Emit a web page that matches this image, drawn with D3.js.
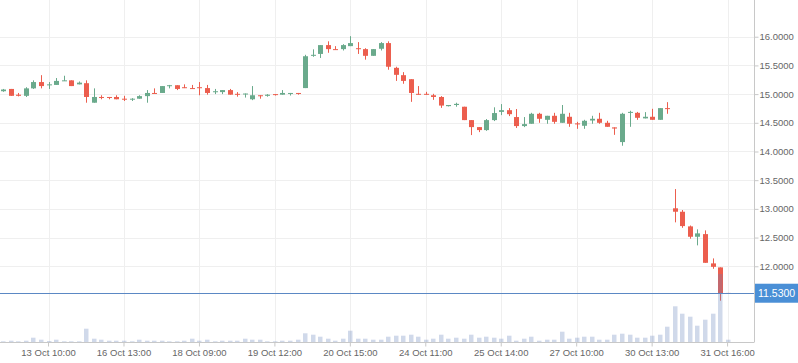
<!DOCTYPE html>
<html>
<head>
<meta charset="utf-8">
<script src="https://cdn.jsdelivr.net/npm/d3@7"></script>
<style>
  body { margin: 0; background: #fff; }
  svg { display: block; font-family: "Liberation Sans", Arial, sans-serif; }
  .axis path, .axis line { stroke: #c8c8c8; }
  .axis text { fill: #666; }
</style>
</head>
<body>
<div id="chart"></div>
<script>
// candles, one per slot
let opens = [15.05, 15.09, 14.99, 14.97, 15.10, 15.21, 15.16, 15.16, 15.23, 15.24,
  15.17, 15.19, 14.85, 14.95, 14.95, 14.95, 14.92, 14.91, 14.92, 14.965,
  15.02, 15.02, 15.145, 15.155, 15.12, 15.105, 15.12, 15.105, 15.035, 15.035,
  15.07, 15.005, 14.995, 14.91, 14.98, 14.97, 15.00, 14.99, 15.01, 15.02,
  15.105, 15.667, 15.70, 15.854, 15.784, 15.784, 15.836, 15.80, 15.784, 15.667,
  15.79, 15.889, 15.458, 15.33, 15.26, 15.005, 15.005, 14.98, 14.95, 14.79,
  14.81, 14.78, 14.547, 14.425, 14.373, 14.547, 14.69, 14.72, 14.60, 14.443,
  14.483, 14.657, 14.552, 14.622, 14.50, 14.605, 14.49, 14.448, 14.54, 14.57,
  14.50, 14.42, 14.164, 14.674, 14.674, 14.577, 14.605, 14.552, 14.756, 13.01,
  12.95, 12.695, 12.514, 12.56, 12.05, 11.98, 11.535]
let highs = [15.09, 15.09, 15.02, 15.12, 15.24, 15.33, 15.21, 15.28, 15.32, 15.24,
  15.22, 15.24, 15.10, 14.98, 14.95, 14.98, 14.97, 14.93, 14.98, 15.07,
  15.10, 15.14, 15.16, 15.155, 15.17, 15.16, 15.21, 15.16, 15.09, 15.07,
  15.09, 15.035, 15.01, 15.14, 14.98, 15.00, 15.00, 15.07, 15.02, 15.02,
  15.685, 15.78, 15.854, 15.92, 15.836, 15.87, 16.01, 15.906, 15.80, 15.784,
  15.906, 15.92, 15.477, 15.383, 15.26, 15.14, 15.04, 15.005, 14.965, 14.81,
  14.85, 14.78, 14.547, 14.425, 14.565, 14.77, 14.826, 14.756, 14.74, 14.60,
  14.674, 14.674, 14.622, 14.674, 14.81, 14.674, 14.517, 14.552, 14.622, 14.674,
  14.535, 14.42, 14.674, 14.71, 14.69, 14.686, 14.744, 14.756, 14.86, 13.345,
  12.98, 12.71, 12.643, 12.625, 12.137, 11.98, 11.535]
let lows = [15.04, 14.97, 14.96, 14.95, 15.09, 15.10, 15.09, 15.16, 15.23, 15.14,
  15.17, 14.85, 14.85, 14.91, 14.91, 14.91, 14.88, 14.88, 14.92, 14.85,
  15.01, 15.02, 15.10, 15.07, 15.105, 15.09, 14.98, 14.99, 15.00, 15.00,
  14.99, 14.955, 14.94, 14.895, 14.92, 14.955, 14.975, 14.99, 14.975, 14.99,
  15.105, 15.65, 15.63, 15.72, 15.775, 15.76, 15.836, 15.70, 15.60, 15.667,
  15.76, 15.425, 15.23, 15.18, 14.865, 14.99, 14.99, 14.90, 14.76, 14.785,
  14.78, 14.547, 14.286, 14.338, 14.36, 14.53, 14.634, 14.617, 14.41, 14.425,
  14.483, 14.50, 14.483, 14.483, 14.50, 14.43, 14.395, 14.395, 14.483, 14.483,
  14.43, 14.29, 14.10, 14.43, 14.552, 14.577, 14.552, 14.552, 14.657, 12.765,
  12.67, 12.48, 12.364, 12.06, 11.956, 11.40, 11.53]
let closes = [15.08, 14.97, 14.97, 15.10, 15.21, 15.14, 15.17, 15.23, 15.24, 15.14,
  15.20, 14.95, 14.95, 14.94, 14.94, 14.91, 14.91, 14.92, 14.965, 15.02,
  15.01, 15.14, 15.155, 15.09, 15.105, 15.09, 15.11, 15.02, 15.05, 15.07,
  14.99, 14.99, 15.01, 14.98, 14.97, 14.99, 14.985, 15.02, 15.02, 15.005,
  15.66, 15.685, 15.854, 15.784, 15.775, 15.854, 15.889, 15.785, 15.667, 15.784,
  15.889, 15.477, 15.336, 15.23, 15.02, 14.99, 14.99, 14.95, 14.80, 14.81,
  14.83, 14.547, 14.425, 14.373, 14.547, 14.67, 14.72, 14.65, 14.443, 14.477,
  14.657, 14.57, 14.622, 14.517, 14.657, 14.483, 14.472, 14.535, 14.57, 14.50,
  14.43, 14.40, 14.657, 14.69, 14.587, 14.605, 14.552, 14.756, 14.74, 12.95,
  12.70, 12.514, 12.573, 12.06, 11.99, 11.53, 11.53]
let volumes = [7, 13, 7, 13, 43, 23, 10, 23, 7, 7,
  7, 133, 33, 23, 13, 13, 13, 7, 23, 13,
  13, 13, 7, 7, 13, 33, 13, 23, 7, 13,
  13, 13, 33, 23, 23, 7, 7, 13, 13, 23,
  87, 73, 53, 33, 13, 33, 113, 33, 33, 23,
  23, 53, 63, 63, 73, 53, 23, 33, 73, 33,
  43, 33, 73, 43, 53, 43, 33, 63, 13, 33,
  53, 13, 23, 23, 103, 33, 43, 53, 53, 23,
  23, 73, 83, 73, 43, 43, 63, 73, 153, 357,
  283, 253, 163, 223, 283, 680, 23]

let slots = 100 // room on the right of the last candle
let tickIndex = [6, 16, 26, 36, 46, 56, 66, 76, 86, 96]
let tickLabels = ['13 Oct 10:00', '16 Oct 13:00', '18 Oct 09:00', '19 Oct 12:00', '20 Oct 15:00',
  '24 Oct 11:00', '25 Oct 14:00', '27 Oct 10:00', '30 Oct 13:00', '31 Oct 16:00']
let priceTicks = [12, 12.5, 13, 13.5, 14, 14.5, 15, 15.5, 16]
let lastPrice = 11.53

let width = 798,
  height = 363,
  plotRight = 754,
  plotBottom = 342

let data = opens.map(function (o, i) {
  return { i: i, open: o, high: highs[i], low: lows[i], close: closes[i], volume: volumes[i] }
})

let x = d3.scaleBand()
  .domain(d3.range(slots))
  .range([-0.5, plotRight])

let y = d3.scaleLinear()
  .domain([10.68, 16.64])
  .range([plotBottom, 0])

let yVol = d3.scaleLinear()
  .domain([0, d3.max(volumes)])
  .range([plotBottom, plotBottom - 68])

let up = '#6aaa8c', down = '#ec5e4e'
let cx = function (d) { return Math.round(x(d.i) + x.bandwidth() / 2) }

let svg = d3.select('#chart').append('svg')
  .attr('width', width)
  .attr('height', height)

// grid
svg.append('g').selectAll('line')
  .data(priceTicks)
  .enter().append('line')
  .attr('x1', 0).attr('x2', plotRight)
  .attr('y1', function (d) { return Math.round(y(d)) + 0.5 })
  .attr('y2', function (d) { return Math.round(y(d)) + 0.5 })
  .attr('stroke', '#efefef')

svg.append('g').selectAll('line')
  .data(tickIndex)
  .enter().append('line')
  .attr('x1', function (d) { return cx({ i: d }) + 0.5 })
  .attr('x2', function (d) { return cx({ i: d }) + 0.5 })
  .attr('y1', 0).attr('y2', plotBottom)
  .attr('stroke', '#efefef')

// candles
let candle = svg.append('g').selectAll('g')
  .data(data)
  .enter().append('g')
  .attr('fill', function (d) { return d.close >= d.open ? up : down })
  .attr('stroke', function (d) { return d.close >= d.open ? up : down })

candle.append('line')
  .attr('x1', function (d) { return cx(d) + 0.5 })
  .attr('x2', function (d) { return cx(d) + 0.5 })
  .attr('y1', function (d) { return y(d.high) })
  .attr('y2', function (d) { return y(d.low) })
  .attr('stroke-width', 1)

candle.append('rect')
  .attr('x', function (d) { return cx(d) - 2 })
  .attr('width', 5)
  .attr('y', function (d) { return y(Math.max(d.open, d.close)) })
  .attr('height', function (d) { return Math.max(1, Math.abs(y(d.open) - y(d.close))) })
  .attr('stroke', 'none')

// volume on top, see-through
svg.append('g').selectAll('rect')
  .data(data)
  .enter().append('rect')
  .attr('x', function (d) { return cx(d) - 2 })
  .attr('width', 4.5)
  .attr('y', function (d) { return yVol(d.volume) })
  .attr('height', function (d) { return plotBottom - yVol(d.volume) })
  .attr('fill', '#6282b8')
  .attr('opacity', 0.3)

// axes
let yAxis = svg.append('g')
  .attr('class', 'axis')
  .attr('transform', 'translate(' + (plotRight + 0.5) + ',0)')
  .call(d3.axisRight(y).tickValues(priceTicks).tickFormat(d3.format('.4f')).tickSize(4).tickPadding(1).tickSizeOuter(0))
yAxis.select('.domain').attr('d', 'M0,0V' + plotBottom)
yAxis.selectAll('text').style('font-size', '9.5px')

let xAxis = svg.append('g')
  .attr('class', 'axis')
  .attr('transform', 'translate(0,' + (plotBottom + 0.5) + ')')
  .call(d3.axisBottom(x).tickValues(tickIndex).tickFormat(function (d, i) { return tickLabels[i] }).tickSize(4).tickPadding(3).tickSizeOuter(0))
xAxis.select('.domain').attr('d', 'M0,0H' + (plotRight + 0.5))
xAxis.selectAll('text').style('font-size', '9.5px')

// last price marker
svg.append('line')
  .attr('x1', 0).attr('x2', plotRight)
  .attr('y1', Math.round(y(lastPrice)) + 0.5)
  .attr('y2', Math.round(y(lastPrice)) + 0.5)
  .attr('stroke', '#5b88c4')

svg.append('rect')
  .attr('x', plotRight + 1)
  .attr('y', y(lastPrice) - 9.5)
  .attr('width', width - plotRight - 1)
  .attr('height', 19)
  .attr('fill', '#4a8fd6')

svg.append('text')
  .attr('x', plotRight + 4)
  .attr('y', y(lastPrice))
  .attr('dy', '0.36em')
  .attr('fill', '#fff')
  .style('font-size', '10.5px')
  .text(d3.format('.4f')(lastPrice))
</script>
</body>
</html>
